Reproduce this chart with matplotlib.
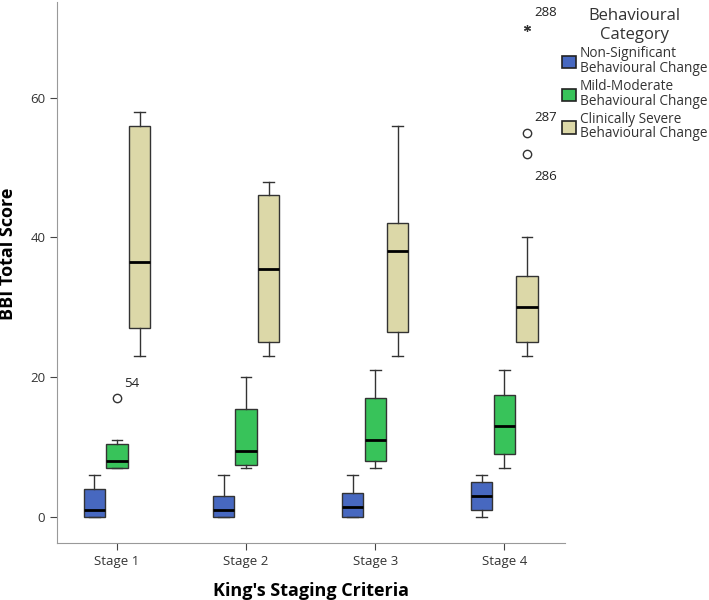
import matplotlib

matplotlib.use("Agg")
import matplotlib.pyplot as plt
from matplotlib.patches import Patch

plt.rcParams["font.family"] = ["Open Sans", "DejaVu Sans"]

stages = ["Stage 1", "Stage 2", "Stage 3", "Stage 4"]
categories = [
    "Non-Significant\nBehavioural Change",
    "Mild-Moderate\nBehavioural Change",
    "Clinically Severe\nBehavioural Change",
]
colors = ["#4768c0", "#38c35a", "#dcd8a8"]

# box statistics, one list per category (Stage 1..4)
nonsig_whislo = [0, 0, 0, 0]
nonsig_q1 = [0, 0, 0, 1]
nonsig_med = [1, 1, 1.5, 3]
nonsig_q3 = [4, 3, 3.5, 5]
nonsig_whishi = [6, 6, 6, 6]

mild_whislo = [7, 7, 7, 7]
mild_q1 = [7, 7.5, 8, 9]
mild_med = [8, 9.5, 11, 13]
mild_q3 = [10.5, 15.5, 17, 17.5]
mild_whishi = [11, 20, 21, 21]

severe_whislo = [23, 23, 23, 23]
severe_q1 = [27, 25, 26.5, 25]
severe_med = [36.5, 35.5, 38, 30]
severe_q3 = [56, 46, 42, 34.5]
severe_whishi = [58, 48, 56, 40]

# outliers: (stage index, category index, value, case label, marker)
outliers = [
    (0, 1, 17, "54", "o"),
    (3, 2, 55, "287", "o"),
    (3, 2, 52, "286", "o"),
    (3, 2, 70, "288", "*"),
]

groups = [
    (nonsig_whislo, nonsig_q1, nonsig_med, nonsig_q3, nonsig_whishi),
    (mild_whislo, mild_q1, mild_med, mild_q3, mild_whishi),
    (severe_whislo, severe_q1, severe_med, severe_q3, severe_whishi),
]

offsets = [-0.175, 0.0, 0.175]
width = 0.165

fig = plt.figure(figsize=(7.09, 6), dpi=100)
ax = fig.add_axes([0.0804, 0.095, 0.717, 0.902])

for ci, (lo, q1, med, q3, hi) in enumerate(groups):
    stats = []
    for si in range(len(stages)):
        stats.append({"whislo": lo[si], "q1": q1[si], "med": med[si],
                      "q3": q3[si], "whishi": hi[si], "fliers": []})
    pos = [si + 1 + offsets[ci] for si in range(len(stages))]
    ax.bxp(stats, positions=pos, widths=width, patch_artist=True,
           showfliers=False,
           boxprops=dict(facecolor=colors[ci], edgecolor="#333333", linewidth=1.0),
           medianprops=dict(color="black", linewidth=2.0),
           whiskerprops=dict(color="#333333", linewidth=1.0),
           capprops=dict(color="#333333", linewidth=1.0))

for si, ci, val, label, mk in outliers:
    x = si + 1 + offsets[ci]
    if mk == "o":
        ax.plot(x, val, marker="o", markersize=6, markerfacecolor="white",
                markeredgecolor="#333333", markeredgewidth=1.0, linestyle="none")
    else:
        ax.plot(x, val, marker=(6, 2, 0), markersize=5, color="#333333",
                markeredgewidth=0.9, linestyle="none")
    dy = -12 if label == "286" else 6
    ax.annotate(label, (x, val), xytext=(5, dy), textcoords="offset points",
                fontsize=9.5, color="#222222", va="bottom" if dy > 0 else "top")

ax.set_xlim(0.535, 4.473)
ax.set_ylim(-3.7, 73.7)
ax.set_xticks(range(1, len(stages) + 1))
ax.set_xticklabels(stages)
ax.set_yticks([0, 20, 40, 60])
ax.tick_params(axis="both", direction="out", length=5, color="#444444",
               labelsize=9.5, labelcolor="#333333")
for side in ["top", "right"]:
    ax.spines[side].set_visible(False)
for side in ["left", "bottom"]:
    ax.spines[side].set_color("#999999")

ax.set_ylabel("BBI Total Score", fontsize=13, fontweight="bold")
ax.yaxis.set_label_coords(-0.078, 0.534)
ax.set_xlabel("King's Staging Criteria", fontsize=13, fontweight="bold", labelpad=10)

handles = [Patch(facecolor=c, edgecolor="#222222", linewidth=1.2) for c in colors]
leg = fig.legend(handles, categories, title="Behavioural\nCategory",
                 loc="upper left", bbox_to_anchor=(0.785, 0.995), frameon=False,
                 fontsize=9.8, title_fontsize=12, handlelength=1.0,
                 handleheight=1.0, handletextpad=0.3, labelspacing=0.25,
                 borderaxespad=0.0)
for t in leg.get_texts():
    t.set_color("#333333")
    t.set_linespacing(0.95)
leg.get_title().set_color("#333333")
leg.get_title().set_multialignment("center")

fig.savefig("out.png", dpi=100)
plt.close(fig)
